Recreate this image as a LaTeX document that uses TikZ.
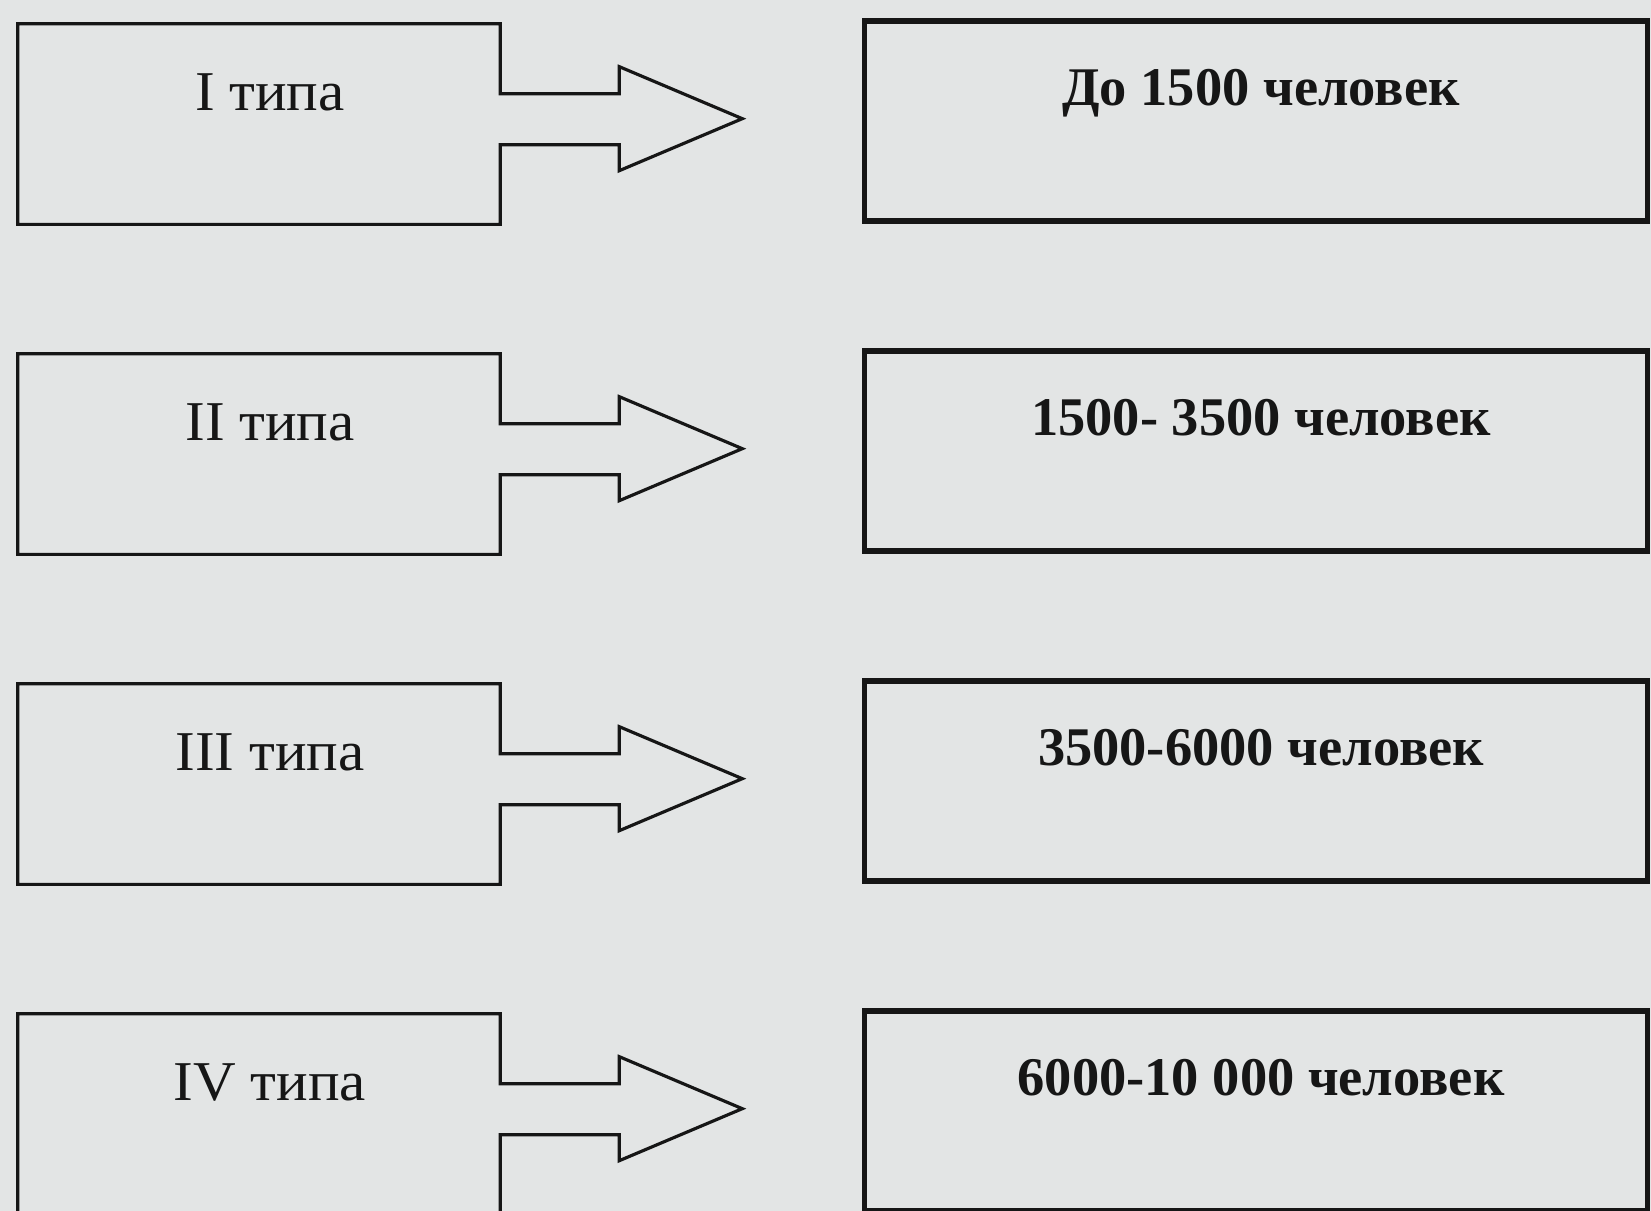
\documentclass[tikz,border=0pt]{standalone}
\usepackage{fontspec}
\setmainfont{Liberation Serif}
\definecolor{paper}{RGB}{227,229,229}
\definecolor{ink}{RGB}{22,22,22}
\tikzset{
  typebox/.style={rectangle, draw=none, minimum width=9.64cm, minimum height=4cm, inner sep=0pt},
  outl/.style={draw=ink, line width=1.8pt, line join=miter},
  rangebox/.style={rectangle, draw=ink, line width=3.1pt, minimum width=15.66cm, minimum height=4cm, inner sep=0pt},
  typelabel/.style={text=ink, font=\fontsize{32}{38}\selectfont, anchor=base, inner sep=0pt, xscale=1.05},
  rangelabel/.style={text=ink, font=\fontsize{31}{37}\selectfont\bfseries, anchor=base, inner sep=0pt}
}
\begin{document}
\begin{tikzpicture}[x=0.02cm,y=-0.02cm]
  % page
  \fill[paper] (0,0) rectangle (1651,1211);
  \useasboundingbox (0,0) rectangle (1651,1211);

  % one row: type box with its outgoing arrow, and the population box
  \foreach \i/\T/\typ/\rng in {1/24/I типа/До 1500 человек,
                              2/354/II типа/1500- 3500 человек,
                              3/684/III типа/3500-6000 человек,
                              4/1014/IV типа/6000-10 000 человек}{
    \node[typebox] (t\i) at (259,\T+100) {};
    \draw[outl] (t\i.north west) -- (t\i.north east) -- ++(0,70) -- ++(119,0)
      -- ++(0,-27) -- ++(123,52) coordinate (tip\i) -- ++(-123,52) -- ++(0,-26)
      -- ++(-119,0) -- (t\i.south east) -- (t\i.south west) -- cycle;
    \node[typelabel] (tl\i) at (270,\T+86) {\typ};
    \node[rangebox] (r\i) at (1256,\T+97) {};
    \node[rangelabel] (rl\i) at (1261,\T+81) {\rng};
  }
\end{tikzpicture}
\end{document}
